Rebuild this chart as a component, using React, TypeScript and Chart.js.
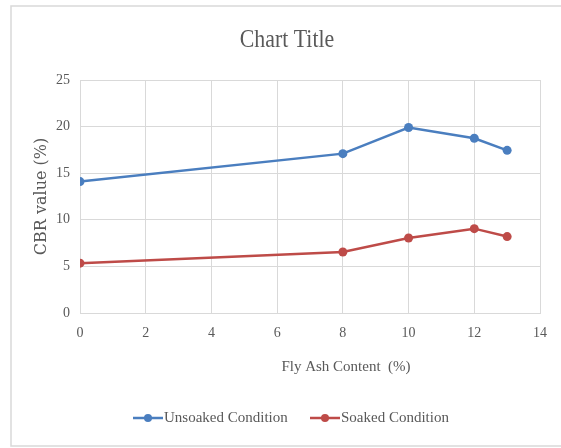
import React, { useEffect, useRef } from "react";
import { Chart, registerables } from "chart.js";

Chart.register(...registerables);

// Fly ash content (%) and CBR values (%)
const flyAshContent = [0, 8, 10, 12, 13];
const unsoakedCBR = [14.1, 17.1, 19.9, 18.75, 17.45];
const soakedCBR = [5.35, 6.55, 8.05, 9.05, 8.2];

const xTicks = [0, 2, 4, 6, 8, 10, 12, 14];
const yTicks = [0, 5, 10, 15, 20, 25];

const chartTitle = "Chart Title";
const xAxisTitle = "Fly Ash Content  (%)";
const yAxisTitle = "CBR value (%)";
const seriesNames = ["Unsoaked Condition", "Soaked Condition"];

const BLUE = "#4A7EBF";
const RED = "#BE4B48";
const GRID = "#D9D9D9";
const TEXT = "#595959";
const FONT = '"Liberation Serif", serif';

// Draws the outer frame, the title, the x-axis title and the legend.
const decorations = {
  id: "decorations",
  afterDraw(chart: Chart) {
    const ctx = chart.ctx;
    ctx.save();
    ctx.strokeStyle = GRID;
    ctx.lineWidth = 1.5;
    ctx.strokeRect(11, 6, 560, 440);

    // title
    ctx.fillStyle = TEXT;
    ctx.textBaseline = "middle";
    ctx.textAlign = "center";
    ctx.save();
    ctx.translate(287, 40);
    ctx.scale(0.84, 1);
    ctx.font = `26px ${FONT}`;
    ctx.fillText(chartTitle, 0, 0);
    ctx.restore();

    // x-axis title
    ctx.font = `15px ${FONT}`;
    ctx.fillText(xAxisTitle, 346, 367);

    // legend
    const colors = [BLUE, RED];
    const starts = [133, 310];
    const y = 418;
    seriesNames.forEach((name, i) => {
      const x0 = starts[i];
      ctx.strokeStyle = colors[i];
      ctx.lineWidth = 2.5;
      ctx.beginPath();
      ctx.moveTo(x0, y);
      ctx.lineTo(x0 + 30, y);
      ctx.stroke();
      ctx.fillStyle = colors[i];
      ctx.beginPath();
      ctx.arc(x0 + 15, y, 4, 0, Math.PI * 2);
      ctx.fill();
      ctx.fillStyle = TEXT;
      ctx.textAlign = "left";
      ctx.font = `15px ${FONT}`;
      ctx.fillText(name, x0 + 31, y);
    });
    ctx.restore();
  },
};

export default function App() {
  const canvasRef = useRef<HTMLCanvasElement | null>(null);

  useEffect(() => {
    document.body.style.margin = "0";
    const canvas = canvasRef.current;
    if (!canvas) return;
    const chart = new Chart(canvas, {
      type: "line",
      data: {
        datasets: [
          {
            label: seriesNames[0],
            data: flyAshContent.map((x, i) => ({ x, y: unsoakedCBR[i] })),
            borderColor: BLUE,
            backgroundColor: BLUE,
            borderWidth: 2.5,
            pointRadius: 4.5,
            pointBorderWidth: 0,
            tension: 0,
          },
          {
            label: seriesNames[1],
            data: flyAshContent.map((x, i) => ({ x, y: soakedCBR[i] })),
            borderColor: RED,
            backgroundColor: RED,
            borderWidth: 2.5,
            pointRadius: 4.5,
            pointBorderWidth: 0,
            tension: 0,
          },
        ],
      },
      options: {
        responsive: false,
        animation: false,
        devicePixelRatio: 1,
        layout: { padding: { left: 12, right: 21, top: 80, bottom: 0 } },
        plugins: {
          legend: { display: false },
          title: { display: false },
          tooltip: { enabled: false },
        },
        scales: {
          x: {
            type: "linear",
            min: 0,
            max: 14,
            afterBuildTicks: (axis: any) => {
              axis.ticks = xTicks.map((v) => ({ value: v }));
            },
            afterFit: (axis: any) => {
              axis.height = 135;
            },
            grid: { color: GRID, drawTicks: false, lineWidth: 1 },
            border: { color: GRID },
            ticks: {
              color: TEXT,
              padding: 12,
              font: { family: FONT, size: 14 },
            },
          },
          y: {
            type: "linear",
            min: 0,
            max: 25,
            afterBuildTicks: (axis: any) => {
              axis.ticks = yTicks.map((v) => ({ value: v }));
            },
            afterFit: (axis: any) => {
              axis.width = 68;
            },
            grid: { color: GRID, drawTicks: false, lineWidth: 1 },
            border: { color: GRID },
            ticks: {
              color: TEXT,
              padding: 10,
              font: { family: FONT, size: 14 },
            },
            title: {
              display: true,
              text: yAxisTitle,
              color: TEXT,
              font: { family: '"DejaVu Serif", serif', size: 16 },
              padding: { top: 20, bottom: 0 },
            },
          },
        },
      },
      plugins: [decorations],
    });
    return () => chart.destroy();
  }, []);

  return <canvas ref={canvasRef} width={561} height={448} style={{ display: "block" }} />;
}
